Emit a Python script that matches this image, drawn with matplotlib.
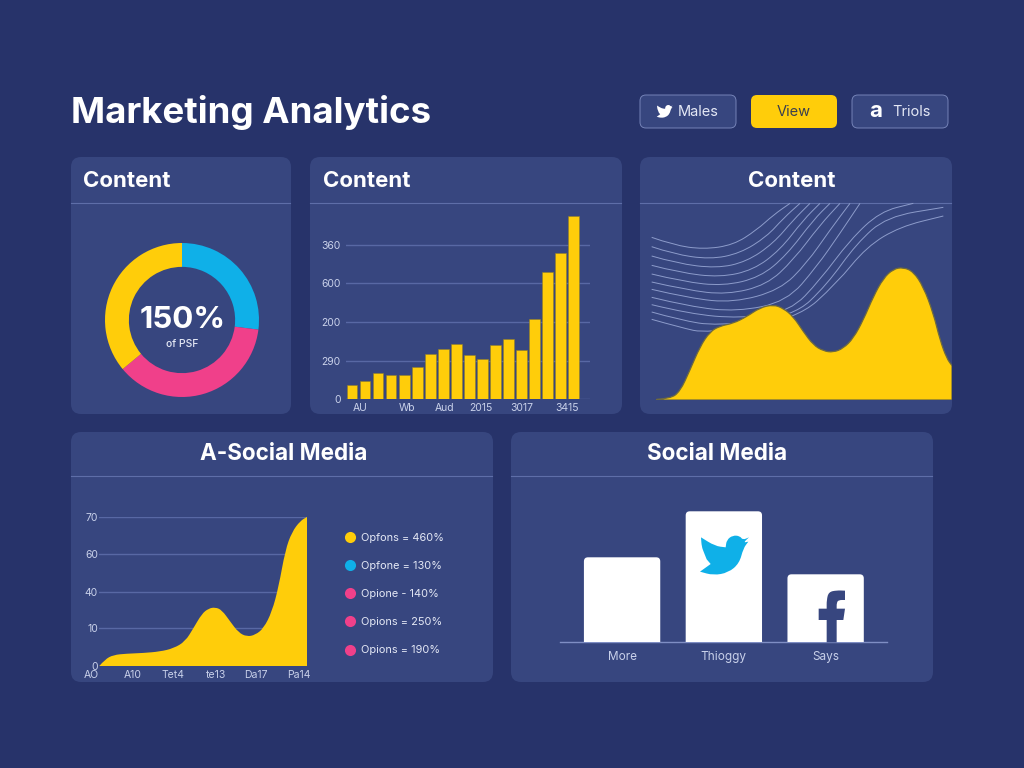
import matplotlib
matplotlib.use('Agg')

import matplotlib.pyplot as plt
import numpy as np
from matplotlib.lines import Line2D
from matplotlib.patches import FancyBboxPatch, PathPatch
from matplotlib.path import Path

W, H = 1024, 768
BG = '#27336A'
PANEL = '#37467F'
RULE = '#5E6EA8'
GRID = '#5868A4'
YELLOW = '#FFCD0A'
CYAN = '#0FB0E8'
PINK = '#F0408A'
TICK = '#C9D1EA'

plt.rcParams['font.family'] = ['Inter', 'DejaVu Sans']

# donut
donut_labels = ['cyan', 'pink', 'yellow']
donut_values = [27, 37, 36]

# bars, one gridline = 100
bar_values = [37, 48, 69, 62, 62, 83, 116, 131, 143, 114, 105, 141, 155, 127, 207, 330, 379, 474]
bar_yticks = [0, 100, 200, 300, 400]
bar_ylabels = ['0', '290', '200', '600', '360']
bar_xticks = [0.6, 4.2, 7.1, 9.9, 13.0, 16.5]
bar_xlabels = ['AU', 'Wb', 'Aud', '2015', '3017', '3415']

# double hump area
hump_x = [50, 90, 120, 150, 180, 210, 240, 280, 320, 360, 400, 430, 460, 490, 520, 550, 580, 610,
          640, 670, 700, 730, 760, 790, 820, 850, 880, 900, 920, 936]
hump_y = [2, 4, 25, 90, 160, 205, 222, 230, 250, 277, 286, 275, 250, 205, 165, 147, 143, 155,
          185, 240, 310, 365, 393, 398, 385, 340, 260, 180, 125, 103]

# thin lines behind the hump, (x, height)
wave_lines = [
    [(35, 488), (100, 465), (190, 452), (280, 465), (350, 510), (400, 555), (450, 590)],
    [(35, 460), (100, 438), (210, 422), (300, 440), (380, 490), (430, 545), (480, 590)],
    [(35, 432), (110, 410), (230, 395), (320, 415), (400, 470), (460, 540), (510, 590)],
    [(35, 404), (120, 382), (240, 368), (340, 390), (420, 450), (490, 540), (540, 590)],
    [(35, 378), (130, 355), (250, 342), (360, 368), (440, 435), (520, 540), (570, 590)],
    [(35, 354), (140, 330), (260, 316), (380, 345), (460, 420), (540, 525), (600, 590)],
    [(35, 332), (150, 305), (280, 292), (420, 330), (500, 410), (570, 510), (630, 590)],
    [(35, 308), (150, 280), (290, 265), (440, 295), (530, 400), (600, 500), (660, 590)],
    [(35, 286), (150, 258), (300, 245), (450, 265), (540, 360), (630, 480), (720, 565), (820, 590)],
    [(35, 264), (120, 240), (230, 222), (460, 250), (560, 345), (650, 470), (740, 550), (910, 578)],
    [(35, 242), (120, 218), (200, 200), (470, 242), (590, 350), (680, 460), (780, 520), (910, 552)],
]

# social area
social_x = [88, 105, 130, 170, 220, 270, 310, 345, 370, 395, 415, 435, 455, 480, 505, 530, 555,
            580, 605, 625, 645, 665, 690, 710]
social_values = [0, 3.1, 5.2, 5.8, 6.1, 6.8, 8.3, 11.5, 17.8, 24.5, 27, 27.6, 26.3, 20.9, 15.7,
                 13.8, 14.6, 17.7, 25.5, 37.2, 54.4, 63, 68.2, 70]
social_yticks = [0, 18, 35, 52.5, 70]
social_ylabels = ['0', '10', '40', '60', '70']
social_xticks = [88, 188, 310, 436, 558, 684]
social_xlabels = ['AO', 'A10', 'Tet4', 'te13', 'Da17', 'Pa14']

legend_labels = ['Opfons = 460%', 'Opfone = 130%', 'Opione - 140%', 'Opions = 250%', 'Opions = 190%']
legend_colors = [YELLOW, CYAN, PINK, PINK, PINK]

# white bars
brand_labels = ['More', 'Thioggy', 'Says']
brand_values = [85, 131, 68]

# icon outlines, read in reference pixels; a repeated point keeps a sharp corner
bird_outline = [(597, 112), (597, 112), (578, 120), (570, 108), (548, 106), (530, 120), (527, 142), (527, 142),
                (495, 138), (453, 112), (453, 112), (455, 140), (462, 158), (462, 158), (470, 178), (470, 178),
                (482, 192), (482, 192), (450, 215), (450, 215), (490, 226), (535, 218), (568, 190), (580, 145),
                (595, 125), (595, 125), (580, 128), (597, 112)]
f_outline = [(830, 427), (830, 427), (830, 360), (830, 360), (806, 360), (806, 360), (806, 326), (806, 326),
             (830, 326), (830, 326), (830, 300), (836, 276), (860, 271), (885, 272), (885, 272), (885, 300),
             (885, 300), (866, 300), (860, 308), (860, 326), (860, 326), (885, 326), (885, 326), (880, 360),
             (880, 360), (860, 360), (860, 360), (860, 427), (860, 427), (830, 427)]


def px_axes(x0, y0, x1, y1):
    ax = fig.add_axes([x0 / W, 1 - y1 / H, (x1 - x0) / W, (y1 - y0) / H])
    ax.patch.set_alpha(0)
    for s in ax.spines.values():
        s.set_visible(False)
    return ax


def smooth_verts(pts):
    pts = np.asarray(pts, dtype=float)
    verts, codes = [pts[0]], [Path.MOVETO]
    for i in range(1, len(pts) - 1):
        verts += [pts[i], (pts[i] + pts[i + 1]) / 2]
        codes += [Path.CURVE3, Path.CURVE3]
    verts.append(pts[-1])
    codes.append(Path.LINETO)
    return verts, codes


def area_patch(x, y, **kw):
    verts, codes = smooth_verts(list(zip(x, y)))
    verts += [(x[-1], 0), (x[0], 0), (x[0], y[0])]
    codes += [Path.LINETO, Path.LINETO, Path.CLOSEPOLY]
    return PathPatch(Path(verts, codes), **kw)


def outline_patch(pts, **kw):
    verts, codes = smooth_verts(pts)
    return PathPatch(Path(verts, codes), **kw)


fig = plt.figure(figsize=(W / 100, H / 100), dpi=100, facecolor=BG)

# page layer in pixel coordinates
page = fig.add_axes([0, 0, 1, 1])
page.set_xlim(0, W)
page.set_ylim(H, 0)
page.axis('off')

panels = [(71, 157, 291, 414, 203), (310, 157, 622, 414, 203), (640, 157, 952, 414, 203),
          (71, 432, 493, 682, 476), (511, 432, 933, 682, 476)]
for x0, y0, x1, y1, rule_y in panels:
    page.add_patch(FancyBboxPatch((x0, y0), x1 - x0, y1 - y0, boxstyle='round,pad=0,rounding_size=10',
                                  fc=PANEL, ec='none'))
    page.plot([x0, x1 - 1], [rule_y, rule_y], color=RULE, lw=0.8)

page.text(71, 113, 'Marketing Analytics', color='white', fontsize=26.4, fontweight='bold', va='center')
page.text(83, 181, 'Content', color='white', fontsize=16, fontweight='bold', va='center')
page.text(323, 181, 'Content', color='white', fontsize=16, fontweight='bold', va='center')
page.text(792, 181, 'Content', color='white', fontsize=16, fontweight='bold', va='center', ha='center')
page.text(284, 454, 'A-Social Media', color='white', fontsize=16.2, fontweight='bold', va='center', ha='center')
page.text(717, 454, 'Social Media', color='white', fontsize=16.2, fontweight='bold', va='center', ha='center')

# top buttons
page.add_patch(FancyBboxPatch((640, 95), 96, 33, boxstyle='round,pad=0,rounding_size=6', fc=PANEL, ec='#7583B8', lw=0.7))
page.add_patch(FancyBboxPatch((751, 95), 86, 33, boxstyle='round,pad=0,rounding_size=6', fc=YELLOW, ec='none'))
page.add_patch(FancyBboxPatch((852, 95), 96, 33, boxstyle='round,pad=0,rounding_size=6', fc=PANEL, ec='#7583B8', lw=0.7))
page.text(698, 112.5, 'Males', color='#E4E8F5', fontsize=10.5, ha='center', va='center')
page.text(794, 112.5, 'View', color='#3A3F50', fontsize=10.5, ha='center', va='center')
page.text(911, 112.5, 'Triols', color='#E4E8F5', fontsize=10.5, ha='center', va='center')
page.text(876, 111, 'a', color='white', fontsize=16, fontweight='bold', ha='center', va='center')

bird = np.array(bird_outline, dtype=float)
page.add_patch(outline_patch((bird - [450, 107]) * 16 / 147 + [656.7, 105], fc='white', ec='none'))

# donut
ax = px_axes(105, 243, 259, 397)
ax.pie(donut_values, colors=[CYAN, PINK, YELLOW], startangle=90, counterclock=False, radius=1,
       wedgeprops={'width': 0.31, 'linewidth': 0})
ax.set_xlim(-1, 1)
ax.set_ylim(-1, 1)
ax.text(0.01, 0.0, '150%', color='white', fontsize=22.5, fontweight='bold', ha='center', va='center')
ax.text(0, -0.31, 'of PSF', color='#E4E8F5', fontsize=7.5, fontweight='medium', ha='center', va='center')

# bars
ax = px_axes(346, 200, 590, 399.3)
ax.bar(range(len(bar_values)), bar_values, width=0.82, color=YELLOW, edgecolor='#8F7E2A', linewidth=0.4, zorder=3)
ax.set_xlim(-0.46, 18.25)
ax.set_ylim(0, 515)
ax.set_yticks(bar_yticks, bar_ylabels)
ax.set_xticks(bar_xticks, bar_xlabels)
ax.tick_params(length=0, labelsize=7.5, labelcolor=TICK)
ax.tick_params(axis='y', pad=4)
ax.tick_params(axis='x', pad=3)
ax.grid(axis='y', color=GRID, lw=1)
ax.set_axisbelow(True)

# hump with thin lines
ax = px_axes(640, 200, 952, 400)
ax.set_xlim(0, 936)
ax.set_ylim(0, 600)
ax.set_xticks([])
ax.set_yticks([])
for line in wave_lines:
    verts, codes = smooth_verts(line)
    ax.add_patch(PathPatch(Path(verts, codes), fc='none', ec='#8D9CCB', lw=0.7, zorder=1))
ax.add_patch(area_patch(hump_x, hump_y, fc=YELLOW, ec='#6E6A3E', lw=0.9, zorder=2))

# social area
ax = px_axes(99.3, 517, 307, 666)
ax.set_xlim(88, 710)
ax.set_ylim(0, 70)
ax.add_patch(area_patch(social_x, social_values, fc=YELLOW, ec='none', zorder=3))
ax.set_yticks(social_yticks, social_ylabels)
ax.set_xticks(social_xticks, social_xlabels)
ax.tick_params(length=0, labelsize=7.5, labelcolor=TICK)
ax.tick_params(axis='y', pad=1)
ax.tick_params(axis='x', pad=3)
ax.get_xticklabels()[0].set_ha('right')
ax.grid(axis='y', color=GRID, lw=1)
ax.set_axisbelow(True)

handles = [Line2D([], [], ls='none', marker='o', ms=8, mfc=c, mec='none') for c in legend_colors]
page.legend(handles, legend_labels, loc='upper left', bbox_to_anchor=(342 / W, 1 - 533 / H),
            bbox_transform=fig.transFigure, frameon=False, fontsize=7.9, labelcolor='#E4E8F5',
            labelspacing=1.65, handletextpad=0.3, handlelength=1.4, borderpad=0, borderaxespad=0)

# white brand bars
ax = px_axes(560, 500, 886.7, 642.3)
ax.set_xlim(-0.61, 2.6)
ax.set_ylim(0, 142.3)
unit_x = (886.7 - 560) / 3.21
for i, v in enumerate(brand_values):
    ax.add_patch(FancyBboxPatch((i - 0.375, -10), 0.75, v + 10, boxstyle='round,pad=0,rounding_size=0.04',
                                mutation_aspect=unit_x, fc='white', ec='none', zorder=3))
ax.set_xticks(range(len(brand_labels)), brand_labels)
ax.set_yticks([])
ax.tick_params(length=0, labelsize=8.5, labelcolor=TICK, pad=6)
ax.spines['bottom'].set_visible(True)
ax.spines['bottom'].set_color('#7F8EC4')
ax.spines['bottom'].set_linewidth(1)

# icons on the white bars
overlay = fig.add_axes([0, 0, 1, 1])
overlay.patch.set_alpha(0)
overlay.set_xlim(0, W)
overlay.set_ylim(H, 0)
overlay.axis('off')
overlay.add_patch(outline_patch(bird / 3 + [550, 500], fc=CYAN, ec='none'))
overlay.add_patch(outline_patch(np.array(f_outline, dtype=float) / 3 + [550, 500], fc=PANEL, ec='none'))

fig.savefig('out.png', dpi=100, facecolor=BG)
